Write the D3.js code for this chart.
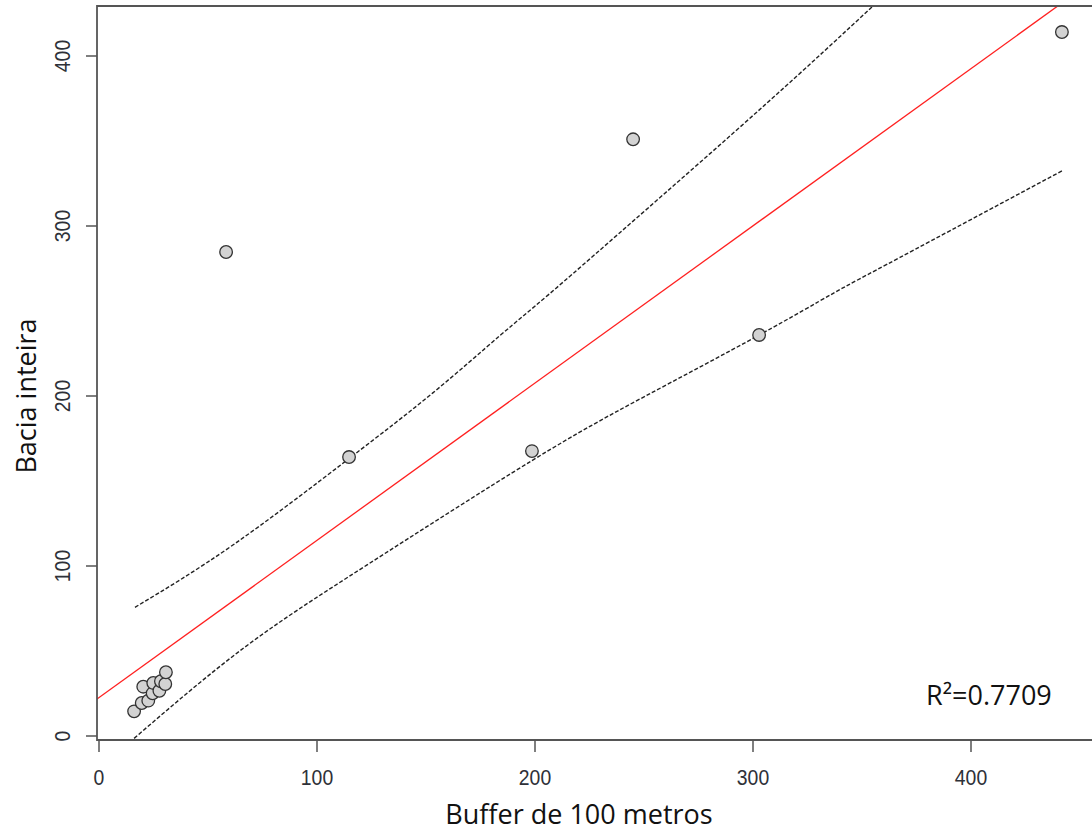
<!DOCTYPE html>
<html>
<head>
	<meta charset="utf-8">
	<title>Bacia inteira vs Buffer de 100 metros</title>
	<style>
body {
  background-color: #ffffff;
  margin: 0;
}
svg {
  background-color: #ffffff;
  display: block;
}
.tick-label {
  font-family: "Liberation Sans", Arial, sans-serif;
  font-size: 22px;
  fill: #2e3138;
}
.title {
  font-family: "Open Sans", sans-serif;
  font-size: 27px;
  fill: #111;
}
	</style>
</head>
<body>

<script src="https://d3js.org/d3.v7.min.js"></script>
<script>
// points
var bufferX = [16.1, 19.6, 22.6, 20.3, 24.6, 24.9, 27.7, 28.4, 30.4, 30.7, 58.3, 114.7, 198.6, 245.0, 302.8, 441.7];
var baciaY  = [14.5, 19.4, 20.8, 29.0, 25.1, 31.2, 26.6, 32.2, 30.6, 37.5, 284.7, 164.1, 167.6, 351.0, 235.9, 414.1];

// fitted line (red)
var fitIntercept = 22.6;
var fitSlope = 0.925;
var fitRange = [-2, 470];

// dashed bands
var upperX = [16.5, 61.6, 114.5, 153.3, 183.9, 206.1, 245.1, 306.3, 355.2];
var upperY = [75.7, 112.5, 163.0, 202.0, 235.5, 259.5, 303.0, 372.2, 429.6];
var lowerX = [16.1, 66.2, 122.8, 198.6, 250.0, 302.9, 336.8, 367.4, 441.7];
var lowerY = [-1.4, 51.6, 100.5, 162.0, 199.5, 235.9, 260.4, 281.5, 332.4];

var xTicks = [0, 100, 200, 300, 400];
var yTicks = [0, 100, 200, 300, 400];

var rSquared = "0.7709";

var W = 1092, H = 831;
var plot = { left: 97, top: 6, right: 1110, bottom: 740 };

var svg = d3.select("body").append("svg")
  .attr("width", W)
  .attr("height", H);

var x = d3.scaleLinear().domain([0, 400]).range([99, 971]);
var y = d3.scaleLinear().domain([0, 400]).range([736, 56]);

svg.append("clipPath").attr("id", "plotclip")
  .append("rect")
  .attr("x", plot.left)
  .attr("y", plot.top)
  .attr("width", plot.right - plot.left)
  .attr("height", plot.bottom - plot.top);

var inner = svg.append("g").attr("clip-path", "url(#plotclip)");

// regression line
inner.append("line")
  .attr("x1", x(fitRange[0]))
  .attr("y1", y(fitIntercept + fitSlope * fitRange[0]))
  .attr("x2", x(fitRange[1]))
  .attr("y2", y(fitIntercept + fitSlope * fitRange[1]))
  .attr("stroke", "#ff2020")
  .attr("stroke-width", 1.3);

var band = d3.line()
  .x(function(d) { return x(d[0]); })
  .y(function(d) { return y(d[1]); })
  .curve(d3.curveNatural);

[[upperX, upperY], [lowerX, lowerY]].forEach(function(b) {
  inner.append("path")
    .datum(d3.zip(b[0], b[1]))
    .attr("d", band)
    .attr("fill", "none")
    .attr("stroke", "#222")
    .attr("stroke-width", 1.4)
    .attr("stroke-dasharray", "4,2");
});

// points
inner.selectAll("circle")
  .data(d3.zip(bufferX, baciaY))
  .enter().append("circle")
  .attr("cx", function(d) { return x(d[0]); })
  .attr("cy", function(d) { return y(d[1]); })
  .attr("r", 6.3)
  .attr("fill", "#d3d3d3")
  .attr("stroke", "#333")
  .attr("stroke-width", 1.3);

// box (right side runs off the picture)
svg.append("path")
  .attr("d", "M" + (plot.right) + "," + plot.top + "H" + plot.left + "V" + plot.bottom + "H" + plot.right)
  .attr("fill", "none")
  .attr("stroke", "#555")
  .attr("stroke-width", 1.8);

// x axis
var xAxis = svg.append("g");
xAxis.selectAll("line").data(xTicks).enter().append("line")
  .attr("x1", function(d) { return x(d); })
  .attr("x2", function(d) { return x(d); })
  .attr("y1", plot.bottom)
  .attr("y2", plot.bottom + 12)
  .attr("stroke", "#555")
  .attr("stroke-width", 1.5);
xAxis.selectAll("text").data(xTicks).enter().append("text")
  .attr("class", "tick-label")
  .attr("transform", function(d) { return "translate(" + x(d) + ",785) scale(0.88,1)"; })
  .attr("text-anchor", "middle")
  .text(function(d) { return d; });

// y axis
var yAxis = svg.append("g");
yAxis.selectAll("line").data(yTicks).enter().append("line")
  .attr("x1", plot.left)
  .attr("x2", plot.left - 11)
  .attr("y1", function(d) { return y(d); })
  .attr("y2", function(d) { return y(d); })
  .attr("stroke", "#555")
  .attr("stroke-width", 1.5);
yAxis.selectAll("text").data(yTicks).enter().append("text")
  .attr("class", "tick-label")
  .attr("transform", function(d) { return "translate(70," + y(d) + ") rotate(-90) scale(0.88,1)"; })
  .attr("text-anchor", "middle")
  .text(function(d) { return d; });

// titles
svg.append("text")
  .attr("class", "title")
  .attr("x", 579)
  .attr("y", 824)
  .attr("text-anchor", "middle")
  .text("Buffer de 100 metros");

svg.append("text")
  .attr("class", "title")
  .attr("font-size", "26px")
  .attr("transform", "translate(36,396) rotate(-90)")
  .attr("text-anchor", "middle")
  .text("Bacia inteira");

svg.append("text")
  .attr("class", "title")
  .attr("x", 926)
  .attr("y", 705)
  .text("R\u00b2=" + rSquared);
</script>

</body>
</html>
